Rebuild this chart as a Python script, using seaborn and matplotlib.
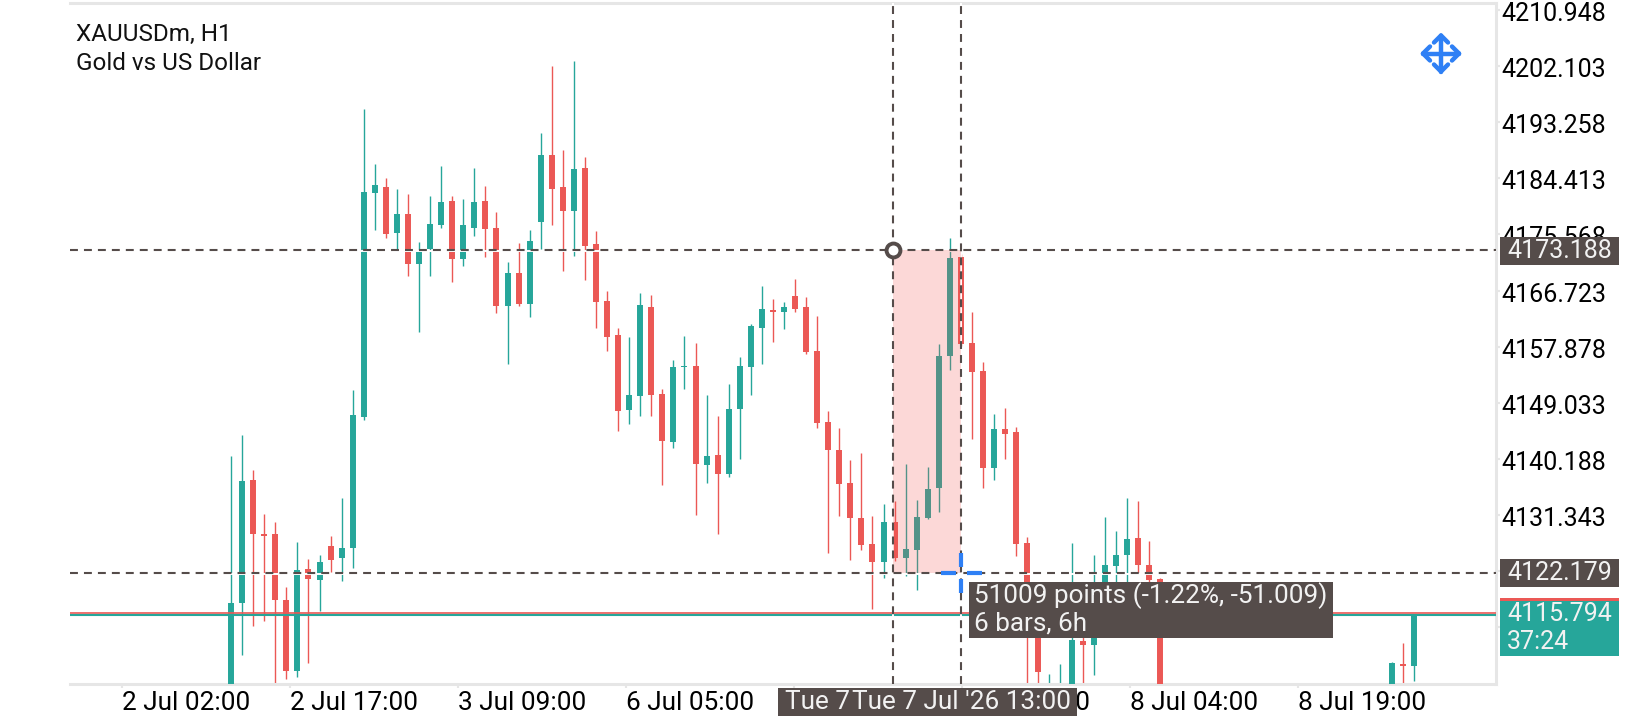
import matplotlib
matplotlib.use('Agg')
import matplotlib.pyplot as plt
from matplotlib.patches import Rectangle
from matplotlib.transforms import ScaledTranslation
import pandas as pd
import seaborn as sns

# hourly candles, bars 85-104 are below the visible range
bar_index = list(range(85)) + [105, 106, 107]
opens = [4100.0, 4117.5, 4136.9, 4128.3, 4128.3, 4117.9, 4106.7, 4122.8, 4121.1, 4126.4,
         4124.6, 4126.1, 4146.8, 4182.1, 4183.0, 4175.8, 4178.8, 4170.9, 4173.3, 4177.1,
         4180.8, 4171.7, 4176.6, 4180.8, 4176.6, 4164.3, 4169.5, 4164.6, 4177.5, 4188.1,
         4183.0, 4179.3, 4186.0, 4174.1, 4165.1, 4159.7, 4147.9, 4150.1, 4164.1, 4150.4,
         4142.8, 4154.7, 4154.8, 4139.2, 4140.8, 4137.8, 4148.0, 4154.7, 4160.8, 4163.7,
         4163.3, 4165.9, 4164.1, 4157.2, 4146.0, 4141.6, 4136.4, 4130.9, 4126.8, 4123.9,
         4130.2, 4124.6, 4125.8, 4130.9, 4135.6, 4156.4, 4172.0, 4158.5, 4154.0, 4138.7,
         4144.9, 4144.4, 4126.9, 4113.7, 4101.0, 4102.0, 4101.0, 4111.5, 4110.8, 4119.7,
         4123.3, 4125.0, 4127.7, 4123.4, 4121.2, 4100.0, 4107.8, 4107.5]
highs = [4140.6, 4143.9, 4138.4, 4131.5, 4130.2, 4120.0, 4127.1, 4124.4, 4125.0, 4128.0,
         4134.0, 4151.0, 4195.3, 4186.7, 4184.5, 4182.7, 4181.9, 4174.4, 4181.6, 4186.4,
         4181.6, 4181.2, 4186.0, 4183.2, 4179.1, 4171.2, 4174.2, 4176.3, 4191.6, 4202.1,
         4188.9, 4202.9, 4187.8, 4176.1, 4166.7, 4160.8, 4159.4, 4166.3, 4166.0, 4151.2,
         4155.8, 4159.6, 4158.5, 4150.3, 4146.9, 4152.0, 4156.2, 4161.4, 4167.4, 4165.4,
         4164.9, 4168.5, 4165.7, 4162.7, 4147.7, 4145.1, 4140.0, 4141.1, 4131.2, 4133.1,
         4133.5, 4139.4, 4133.7, 4138.9, 4158.3, 4175.0, 4172.5, 4163.3, 4155.5, 4147.3,
         4148.2, 4145.2, 4127.9, 4118.1, 4106.3, 4107.8, 4126.9, 4114.9, 4125.0, 4131.0,
         4128.8, 4134.0, 4133.5, 4127.2, 4121.4, 4108.2, 4111.2, 4115.8]
lows = [4098.0, 4109.3, 4113.8, 4114.6, 4103.9, 4105.5, 4105.8, 4108.0, 4116.2, 4122.3,
        4120.9, 4123.0, 4146.3, 4176.3, 4175.0, 4173.0, 4169.0, 4160.2, 4169.0, 4176.6,
        4168.1, 4170.6, 4175.3, 4172.0, 4163.2, 4155.1, 4164.3, 4162.5, 4173.3, 4177.1,
        4169.8, 4172.2, 4168.4, 4160.8, 4157.2, 4144.6, 4145.7, 4146.9, 4146.9, 4136.1,
        4141.9, 4151.2, 4131.3, 4136.4, 4128.3, 4137.3, 4140.2, 4150.3, 4155.1, 4158.6,
        4160.7, 4163.3, 4156.7, 4145.1, 4125.3, 4131.2, 4124.2, 4125.8, 4116.5, 4121.4,
        4124.1, 4121.7, 4119.5, 4130.7, 4131.8, 4154.2, 4158.0, 4143.3, 4135.6, 4136.9,
        4140.2, 4124.9, 4103.0, 4103.1, 4100.0, 4101.0, 4099.0, 4103.0, 4106.1, 4118.1,
        4119.7, 4119.7, 4122.2, 4120.5, 4098.0, 4098.0, 4102.0, 4105.2]
closes = [4117.5, 4136.7, 4128.3, 4128.0, 4117.9, 4106.7, 4122.7, 4121.2, 4123.9, 4124.2,
          4126.1, 4147.1, 4182.3, 4183.4, 4175.6, 4178.8, 4170.9, 4172.8, 4177.2, 4180.7,
          4171.7, 4177.1, 4180.7, 4176.4, 4164.3, 4169.5, 4164.6, 4174.5, 4188.1, 4182.7,
          4179.3, 4185.9, 4173.7, 4164.9, 4159.4, 4147.7, 4150.3, 4164.4, 4150.3, 4143.0,
          4154.7, 4154.8, 4139.4, 4140.6, 4137.8, 4148.0, 4154.8, 4161.1, 4163.8, 4163.3,
          4164.1, 4163.8, 4157.0, 4145.8, 4141.6, 4136.2, 4130.9, 4126.6, 4123.9, 4130.2,
          4124.6, 4126.0, 4131.0, 4135.4, 4156.4, 4171.9, 4158.3, 4153.9, 4138.7, 4144.9,
          4144.1, 4126.8, 4113.7, 4106.6, 4103.5, 4104.0, 4111.6, 4110.8, 4114.9, 4123.4,
          4125.0, 4127.5, 4123.4, 4121.1, 4100.0, 4108.0, 4107.5, 4115.794]

price_ticks = [4210.948, 4202.103, 4193.258, 4184.413, 4175.568, 4166.723,
               4157.878, 4149.033, 4140.188, 4131.343, 4122.498, 4113.653]
time_tick_pos = [-9.86, 5.33, 20.52, 35.71, 50.9, 66.09, 81.27, 96.46]
time_labels = ['2 Jul 02:00', '2 Jul 17:00', '3 Jul 09:00', '6 Jul 05:00',
               '6 Jul 21:00', '7 Jul 13:00', '8 Jul 04:00', '8 Jul 19:00']

measure_start_bar = 59.9
measure_end_bar = 66
measure_high = 4173.188
measure_low = 4122.179
last_price = 4115.794

TEAL = '#26a69a'
RED = '#eb5855'
DARK = '#554c4a'
GREY = '#e6e6e6'
BLUE = '#2f80f5'
LABEL_WHITE = '#f2f2f2'

sns.set_theme(style='white')
plt.rcParams['font.family'] = ['Roboto', 'DejaVu Sans']

df = pd.DataFrame({'bar': bar_index, 'open': opens, 'high': highs, 'low': lows, 'close': closes})
df['dir'] = ['up' if c >= o else 'down' for o, c in zip(df['open'], df['close'])]
palette = {'up': TEAL, 'down': RED}

wicks = df.melt(id_vars=['bar', 'dir'], value_vars=['low', 'high'], value_name='price')
bodies = df.melt(id_vars=['bar', 'dir'], value_vars=['open', 'close'], value_name='price')

fig = plt.figure(figsize=(16.4, 7.2), dpi=100)
ax = fig.add_axes([70 / 1640, 1 - 684 / 720, (1496 - 70) / 1640, (684 - 3) / 720])

sns.lineplot(data=wicks, x='bar', y='price', hue='dir', units='bar', estimator=None,
             palette=palette, linewidth=1.0, legend=False, ax=ax, solid_capstyle='butt', zorder=2)
sns.lineplot(data=bodies, x='bar', y='price', hue='dir', units='bar', estimator=None,
             palette=palette, linewidth=4.3, legend=False, ax=ax, solid_capstyle='butt', zorder=3)

ax.set_xlim(-14.56, 114.38)
ax.set_ylim(4104.69, 4212.05)
ax.set_xlabel('')
ax.set_ylabel('')

# price line
ax.axhline(last_price + 0.16, color=RED, lw=1.2, zorder=4)
ax.axhline(last_price - 0.16, color=TEAL, lw=1.5, zorder=4)

# measure tool
for p in [measure_high, measure_low]:
    ax.axhline(p - 0.2, color='white', lw=1.4, zorder=5)
for b in [measure_start_bar, measure_end_bar]:
    ax.axvline(b, color='white', lw=1.4, zorder=5)
ax.add_patch(Rectangle((measure_start_bar, measure_low), measure_end_bar - measure_start_bar,
                       measure_high - measure_low, color='#f5504c', alpha=0.22, lw=0, zorder=6))
for p in [measure_high, measure_low]:
    ax.axhline(p, color=DARK, lw=1.5, dashes=(3.8, 2.9), zorder=7)
for b in [measure_start_bar, measure_end_bar]:
    ax.axvline(b, color=DARK, lw=1.5, dashes=(3.8, 2.9), zorder=7)
ax.plot([measure_start_bar], [measure_high], 'o', ms=10, mfc='white', mec=DARK, mew=2.8, zorder=8)

ax.yaxis.tick_right()
ax.set_yticks(price_ticks)
ax.set_yticklabels([f'{p:.3f}' for p in price_ticks], fontsize=18, color='black')
ax.set_xticks(time_tick_pos)
ax.set_xticklabels(time_labels, fontsize=18.8, color='black', ha='left')
ax.tick_params(axis='y', right=True, length=3, width=1.5, color=GREY, pad=1.2)
ax.tick_params(axis='x', bottom=True, length=3, width=1.5, color=GREY, pad=2)
# labels sit slightly below their ticks
for lbl in ax.get_yticklabels():
    lbl.set_transform(lbl.get_transform() + ScaledTranslation(0, -1.5 / 100, fig.dpi_scale_trans))

ax.spines['left'].set_visible(False)
for s in ['top', 'right', 'bottom']:
    ax.spines[s].set_color(GREY)
    ax.spines[s].set_linewidth(2.2)

# screen overlay in pixel coordinates for labels and widgets
ui = fig.add_axes([0, 0, 1, 1], facecolor='none')
ui.set_xlim(0, 1640)
ui.set_ylim(720, 0)
ui.axis('off')

ui.text(76, 34, 'XAUUSDm, H1', fontsize=17.5, color='#111111', va='center')
ui.text(76, 64, 'Gold vs US Dollar', fontsize=17.5, color='#111111', va='center')

# price labels
ui.add_patch(Rectangle((1500, 237), 119, 28, color=DARK, lw=0))
ui.text(1507, 251, '4173.188', fontsize=18, color=LABEL_WHITE, va='center')
ui.add_patch(Rectangle((1500, 559), 119, 28, color=DARK, lw=0))
ui.text(1507, 573, '4122.179', fontsize=18, color=LABEL_WHITE, va='center')
ui.add_patch(Rectangle((1500, 599), 119, 57, color=TEAL, lw=0))
ui.add_patch(Rectangle((1500, 598), 119, 2.5, color=RED, lw=0))
ui.text(1507, 614, '4115.794', fontsize=18, color=LABEL_WHITE, va='center')
ui.text(1507, 642, '37:24', fontsize=18, color=LABEL_WHITE, va='center')

# tooltip
ui.add_patch(Rectangle((969, 582), 364, 56, color=DARK, lw=0))
ui.text(974, 596, '51009 points (-1.22%, -51.009)', fontsize=18.8, color=LABEL_WHITE, va='center')
ui.text(974, 624, '6 bars, 6h', fontsize=18.8, color=LABEL_WHITE, va='center')

# time labels of the crosshair
ui.add_patch(Rectangle((778, 688), 299, 28, color=DARK, lw=0))
ui.text(785, 702, 'Tue 7', fontsize=18.8, color=LABEL_WHITE, va='center')
ui.text(852, 702, "Tue 7 Jul '26 13:00", fontsize=18.8, color=LABEL_WHITE, va='center')

# blue crosshair
for xs, ys in [([961, 961], [553, 567]), ([961, 961], [579, 593]),
               ([941, 956], [573, 573]), ([967, 982], [573, 573])]:
    ui.plot(xs, ys, color=BLUE, lw=3, solid_capstyle='butt')

# move icon
cx, cy = 1441, 53.5
ui.plot([cx - 18, cx + 18], [cy, cy], color=BLUE, lw=3.2, solid_capstyle='round')
ui.plot([cx, cx], [cy - 18, cy + 18], color=BLUE, lw=3.2, solid_capstyle='round')
for dx, dy in [(1, 0), (-1, 0), (0, 1), (0, -1)]:
    tip = (cx + 18 * dx, cy + 18 * dy)
    for side in [1, -1]:
        ui.plot([tip[0], tip[0] - 7 * dx + 7 * side * dy], [tip[1], tip[1] - 7 * dy + 7 * side * dx],
                color=BLUE, lw=3.2, solid_capstyle='round')

fig.savefig('out.png', dpi=100, facecolor='white')
